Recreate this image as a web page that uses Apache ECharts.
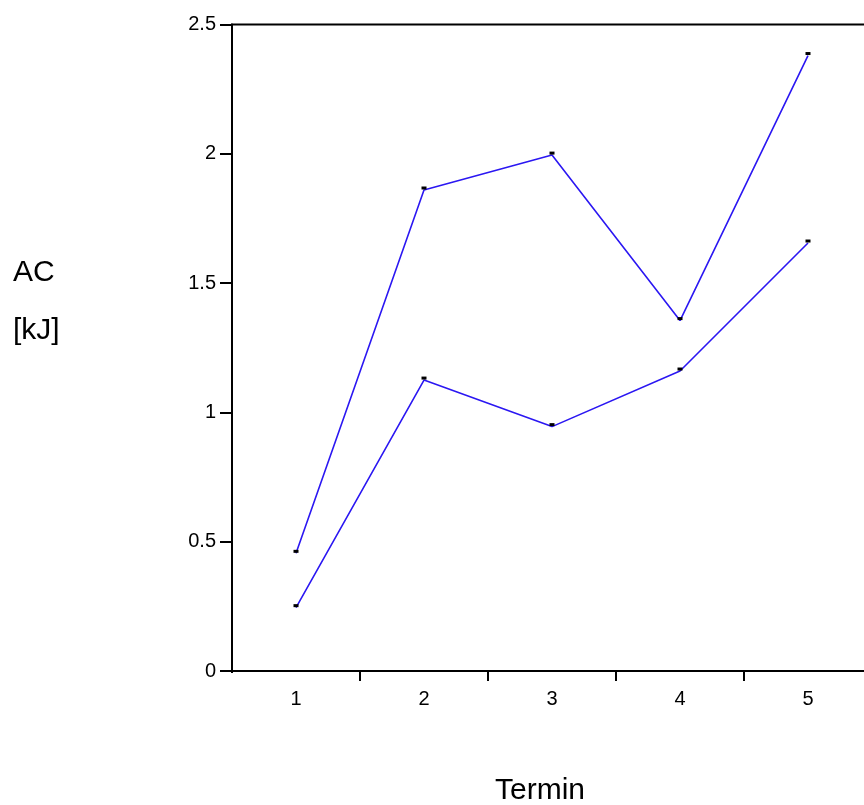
<!DOCTYPE html>
<html>
<head>
<meta charset="utf-8">
<script src="https://cdn.jsdelivr.net/npm/echarts@6/dist/echarts.min.js"></script>
<style>
  html, body { margin: 0; padding: 0; background: #fff; }
  #chart { width: 864px; height: 805px; }
</style>
</head>
<body>
<div id="chart"></div>
<script>
// Termin 1..5, AC in kJ
const termine = ['1', '2', '3', '4', '5']
const upperAC = [0.455, 1.86, 1.995, 1.355, 2.38]
const lowerAC = [0.245, 1.125, 0.945, 1.16, 1.655]

const font = 'Liberation Sans, Arial, sans-serif'
const lineBlue = '#2b17f2'

const chart = echarts.init(document.getElementById('chart'))

const lineSeries = data => ({
  type: 'line',
  data,
  symbol: 'rect',
  symbolSize: [5, 3],
  symbolOffset: [0, -2],
  showSymbol: true,
  itemStyle: { color: '#000' },
  lineStyle: { color: lineBlue, width: 1.6 },
  emphasis: { disabled: true },
  animation: false,
})

chart.setOption({
  animation: false,
  grid: {
    left: 232, top: 24.5, right: -8, bottom: 134,
    outerBoundsMode: 'none',
    show: true, borderColor: '#000', borderWidth: 2, backgroundColor: 'transparent',
  },
  xAxis: {
    type: 'category',
    data: termine,
    boundaryGap: true,
    axisLine: { lineStyle: { color: '#000', width: 2 } },
    axisTick: { show: true, length: 10, interval: 0, lineStyle: { color: '#000', width: 2 } },
    axisLabel: { color: '#000', fontSize: 20, fontFamily: font, margin: 18 },
    splitLine: { show: false },
  },
  yAxis: {
    type: 'value',
    min: 0, max: 2.5, interval: 0.5,
    axisLine: { show: true, lineStyle: { color: '#000', width: 2 } },
    axisTick: { show: true, length: 12, lineStyle: { color: '#000', width: 2 } },
    axisLabel: { color: '#000', fontSize: 20, fontFamily: font, margin: 16 },
    splitLine: { show: false },
  },
  graphic: [
    // hide the x tick that would hang below the origin
    { type: 'rect', shape: { x: 229, y: 673, width: 6, height: 12 }, style: { fill: '#fff' }, z: 100 },
    { type: 'text', left: 13, top: 258, style: { text: 'AC', font: '30px ' + font, fill: '#000' } },
    { type: 'text', left: 13, top: 316, style: { text: '[kJ]', font: '30px ' + font, fill: '#000' } },
    { type: 'text', left: 495, top: 776, style: { text: 'Termin', font: '30px ' + font, fill: '#000' } },
  ],
  series: [lineSeries(upperAC), lineSeries(lowerAC)],
})
</script>
</body>
</html>
